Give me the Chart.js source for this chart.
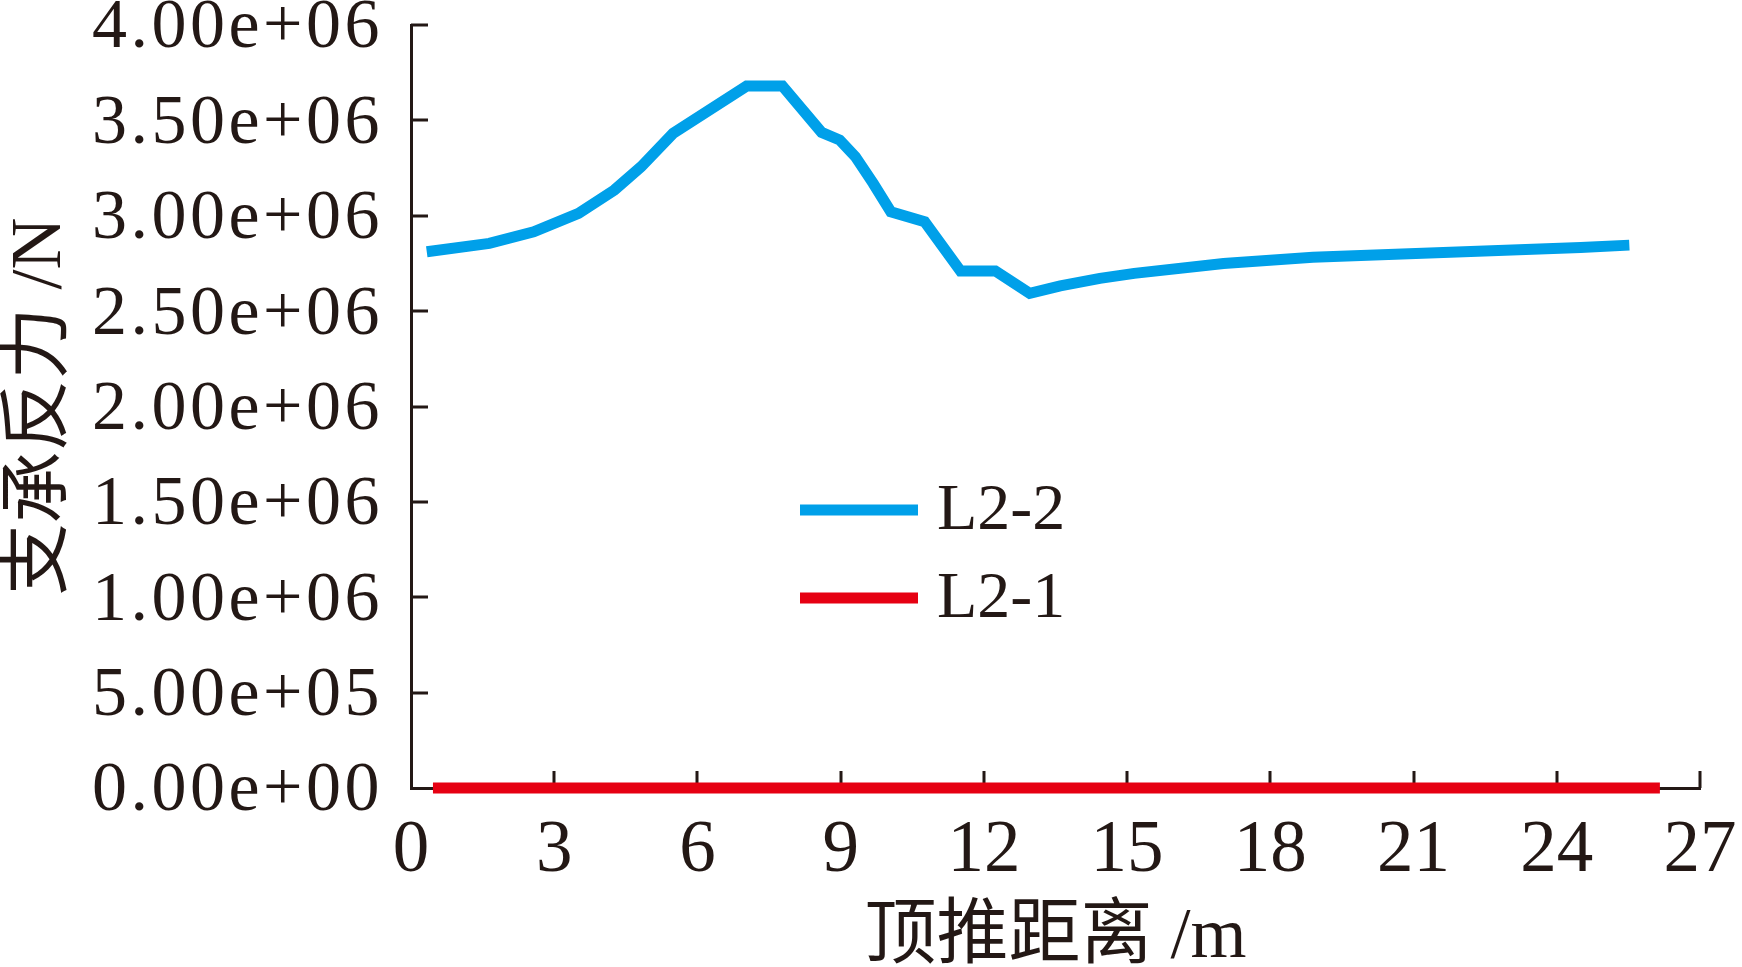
<!DOCTYPE html>
<html><head><meta charset="utf-8">
<script src="https://cdn.jsdelivr.net/npm/chart.js@4.4.0/dist/chart.umd.min.js"></script>
<style>html,body{margin:0;padding:0;background:#fff;overflow:hidden}</style>
</head><body>
<canvas id="c" width="1742" height="967"></canvas>
<script>
// ---- data ----
const seriesNames = ['L2-2', 'L2-1'];
const l22X = [0.33, 1.64, 2.57, 3.51, 4.26, 4.82, 5.49, 7.03, 7.78, 8.60, 8.98, 9.31, 9.68, 10.05, 10.76, 11.51, 12.24, 12.96, 13.6, 14.43, 15.15, 17.02, 18.89, 20.76, 22.63, 24.50, 25.52];
const l22Y = [2.811e6, 2.855e6, 2.916e6, 3.012e6, 3.135e6, 3.257e6, 3.432e6, 3.680e6, 3.680e6, 3.437e6, 3.397e6, 3.309e6, 3.170e6, 3.021e6, 2.968e6, 2.711e6, 2.711e6, 2.593e6, 2.632e6, 2.672e6, 2.698e6, 2.750e6, 2.782e6, 2.799e6, 2.816e6, 2.834e6, 2.846e6];
const l21X = [0.46, 26.16];
const l21Y = [0, 0];
const xTitle = '顶推距离 /m';
const yTitle = '支承反力 /N';

const INK = '#231815';
const BLUE = '#00A0E9';
const RED = '#E60012';
const SERIF = "'Liberation Serif', 'Times New Roman', serif";
const TITLEFONT = "'Liberation Serif', 'Noto Sans CJK SC', serif";

function fmtExp(v) {
  const s = Number(v).toExponential(2);
  const [m, e] = s.split('e');
  const sign = e[0];
  let d = e.slice(1);
  if (d.length < 2) d = '0' + d;
  return m + 'e' + sign + d;
}
function pts(xs, ys) { return xs.map((x, i) => ({x, y: ys[i]})); }
function noPad(s) { s.paddingTop = 0; s.paddingBottom = 0; s.paddingLeft = 0; s.paddingRight = 0; }

const tickMarks = {
  id: 'tickMarks',
  beforeDatasetsDraw(chart) {
    const ctx = chart.ctx, a = chart.chartArea;
    const xs = chart.scales.x, ys = chart.scales.y;
    ctx.save();
    ctx.strokeStyle = INK; ctx.lineWidth = 3; ctx.lineCap = 'butt';
    ctx.beginPath();
    ys.ticks.forEach(t => {
      if (t.value === 0) return;
      const p = Math.round(ys.getPixelForValue(t.value));
      ctx.moveTo(a.left, p); ctx.lineTo(a.left + 17, p);
    });
    xs.ticks.forEach(t => {
      if (t.value === 0) return;
      const p = Math.round(xs.getPixelForValue(t.value));
      ctx.moveTo(p, a.bottom); ctx.lineTo(p, a.bottom - 17);
    });
    ctx.stroke();
    ctx.restore();
  }
};

const inlineLegend = {
  id: 'inlineLegend',
  afterDatasetsDraw(chart) {
    const ctx = chart.ctx, a = chart.chartArea;
    const x1 = a.left + 389, x2 = a.left + 507, tx = a.left + 526;
    const rows = [a.top + 485, a.top + 573];
    ctx.save();
    ctx.font = '66px ' + SERIF;
    ctx.textBaseline = 'middle';
    ctx.textAlign = 'left';
    chart.data.datasets.forEach((ds, i) => {
      const y = rows[i];
      ctx.strokeStyle = ds.borderColor; ctx.lineWidth = 11; ctx.lineCap = 'butt';
      ctx.beginPath(); ctx.moveTo(x1, y); ctx.lineTo(x2, y); ctx.stroke();
      ctx.fillStyle = INK;
      ctx.fillText(ds.label, tx, y + 2);
    });
    ctx.restore();
  }
};

function spacedLabels(s) {
  if (s._spacedWrapped) return;
  s._spacedWrapped = true;
  const orig = Object.getPrototypeOf(s).drawLabels;
  s.drawLabels = function (area) {
    const ctx = this.ctx;
    ctx.save();
    ctx.letterSpacing = '3.5px';
    orig.call(this, area);
    ctx.restore();
  };
}

new Chart(document.getElementById('c'), {
  type: 'line',
  data: {
    datasets: [
      {label: seriesNames[0], data: pts(l22X, l22Y), borderColor: BLUE, borderWidth: 11, pointRadius: 0, tension: 0, borderJoinStyle: 'miter', borderCapStyle: 'butt', fill: false, clip: false},
      {label: seriesNames[1], data: pts(l21X, l21Y), borderColor: RED, borderWidth: 11, pointRadius: 0, tension: 0, borderCapStyle: 'butt', fill: false, clip: false}
    ]
  },
  options: {
    responsive: false,
    animation: false,
    devicePixelRatio: 1,
    layout: {padding: {top: 25, right: 42, left: 0, bottom: 0}},
    plugins: {legend: {display: false}, tooltip: {enabled: false}, title: {display: false}},
    scales: {
      x: {
        type: 'linear', min: 0, max: 27,
        ticks: {stepSize: 3, color: INK, font: {family: SERIF, size: 73, lineHeight: 1}, padding: 27, maxRotation: 0, autoSkip: false},
        grid: {display: false, drawTicks: false},
        border: {display: true, color: INK, width: 3},
        title: {display: true, text: xTitle, color: INK, font: {family: TITLEFONT, size: 72, lineHeight: 0.8}, padding: 0},
        afterFit(s) { s.height = 179; noPad(s); }
      },
      y: {
        type: 'linear', min: 0, max: 4e6,
        ticks: {stepSize: 5e5, color: INK, font: {family: SERIF, size: 70, lineHeight: 0.6}, padding: 28, labelOffset: 4, callback: v => fmtExp(v), autoSkip: false},
        grid: {display: false, drawTicks: false},
        border: {display: true, color: INK, width: 3},
        title: {display: true, text: yTitle, color: INK, font: {family: TITLEFONT, size: 72, lineHeight: 1.14}, padding: 0},
        afterFit(s) { s.width = 411; noPad(s); spacedLabels(s); }
      }
    }
  },
  plugins: [tickMarks, inlineLegend]
});
</script>
</body></html>
